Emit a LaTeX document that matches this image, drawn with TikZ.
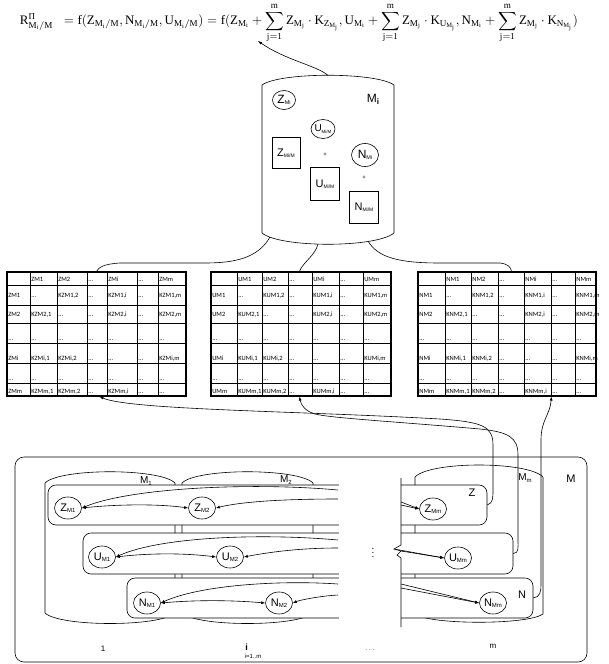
\documentclass[tikz,border=0pt]{standalone}
\usepackage{amsmath}
\usepackage{fontspec}
\setmainfont{Liberation Sans}
\setmathrm{Liberation Serif}
\newfontfamily\formfont{Liberation Serif}
\newfontfamily\tabfont{Carlito}
\usepackage{tikz}
\usetikzlibrary{arrows.meta,positioning,fit,calc,shapes.geometric}
\tikzset{
  var/.style={draw,ellipse,fill=white,inner sep=0pt,minimum width=27pt,minimum height=22pt,
              font=\fontsize{11}{11}\selectfont},
  share/.style={draw,fill=white,inner sep=0pt,minimum width=29pt,minimum height=32pt,
              font=\fontsize{11}{11}\selectfont},
  row/.style={draw,fill=white,rounded corners=8pt,inner sep=0pt},
  drum/.style={draw,fill=white},
  tab/.style={draw,line width=1.1pt,inner sep=0pt},
  grid/.style={line width=0.4pt},
  cell/.style={anchor=base west,inner sep=1pt,font=\tabfont\fontsize{6.5}{7}\selectfont},
  lbl/.style={inner sep=0pt,font=\fontsize{11}{11}\selectfont},
  link/.style={-{Latex[length=4pt,width=3pt]}},
  both/.style={{Latex[length=4pt,width=3pt]}-{Latex[length=4pt,width=3pt]}}
}
\newcommand{\vsub}[3][6]{#2\raisebox{-1.5pt}{\fontsize{#1}{#1}\selectfont #3}}
\newcommand{\el}{...}
% #1 node name, #2 letter, #3 column edges
\newcommand{\ktable}[3]{%
  \pgfmathsetmacro{\xa}{{#3}[0]}%
  \pgfmathsetmacro{\xb}{{#3}[7]}%
  \foreach \x in {#3} \draw[grid] (\x,272) -- (\x,396);
  \foreach \y in {285,305,323,343,363,383} \draw[grid] (\xa,\y) -- (\xb,\y);
  \node[tab,fit={(\xa,272) (\xb,396)}] (#1) {};
  \foreach \y/\cells in {%
      281/{{},#2M1,#2M2,\el,#2Mi,\el,#2Mm},
      297/{#2M1,\el,{K#2M1,2},\el,{K#2M1,i},\el,{K#2M1,m}},
      316/{#2M2,{K#2M2,1},\el,\el,{K#2M2,i},\el,{K#2M2,m}},
      340/{\el,\el,\el,\el,\el,\el,\el},
      360/{#2Mi,{K#2Mi,1},{K#2Mi,2},\el,\el,\el,{K#2Mi,m}},
      380/{\el,\el,\el,\el,\el,\el,\el},
      393/{#2Mm,{K#2Mm,1},{K#2Mm,2},\el,{K#2Mm,i},\el,\el}}{%
    \foreach \entry [count=\ci from 0] in \cells {%
      \pgfmathsetmacro{\cx}{{#3}[\ci]}%
      \node[cell] at (\cx,\y) {\entry};
    }
  }
}

\begin{document}
\begin{tikzpicture}[x=1pt,y=-1pt,line width=0.6pt]
  \useasboundingbox (0,0) rectangle (608,664);

  % formula
  \node[inner sep=0pt] (formula) at (299,23) {\resizebox{558pt}{!}{$\displaystyle
    \mathrm{R^{\text{\formfont Π}}_{M_i/M}\;\; = f(Z_{M_i/M},N_{M_i/M},U_{M_i/M}) = f(Z_{M_i}+\sum_{j=1}^{m}Z_{M_j}\cdot K_{Z_{M_j}},
    U_{M_i}+\sum_{j=1}^{m}Z_{M_j}\cdot K_{U_{M_j}},N_{M_i}+\sum_{j=1}^{m}Z_{M_j}\cdot K_{N_{M_j}})}$}};
  \coordinate (rTip) at (258,41);

  % element M_i
  \draw[drum] (262,233) -- (262,85) .. controls (280,72) and (376,72) .. (394,85)
    -- (394,233) .. controls (376,248) and (280,248) .. (262,233) -- cycle;
  \coordinate (MiTop) at (328,75.5);
  \coordinate (MiL) at (270,237);
  \coordinate (MiC) at (318,244);
  \coordinate (MiR) at (368,241);
  \node[var,minimum width=23pt,minimum height=19pt,font=\fontsize{12}{12}\selectfont] (ZMi) at (284,100) {\vsub[5.5]{Z}{Mi}};
  \node[lbl,font=\fontsize{12}{12}\selectfont] (Mi) at (373,99) {M\raisebox{-2pt}{\fontsize{8}{8}\selectfont\bfseries i}};
  \node[var,minimum width=20pt,minimum height=19pt,font=\fontsize{10}{10}\selectfont] (UMi) at (323,129) {\vsub[4.5]{U}{Mi/M}};
  \node[share,minimum width=28pt,minimum height=31pt] (ZMiM) at (286,153) {\vsub[5]{Z}{Mi/M}};
  \node[lbl,font=\fontsize{6}{6}\selectfont] (plusA) at (325,155) {+};
  \node[var,minimum width=27pt,minimum height=23pt,font=\fontsize{12}{12}\selectfont] (NMi) at (365,155) {\vsub[5.5]{N}{Mi}};
  \node[share,minimum height=33pt] (UMiM) at (325,184) {\vsub[5]{U}{Mi/M}};
  \node[lbl,font=\fontsize{6}{6}\selectfont] (plusB) at (364,178) {+};
  \node[share] (NMiM) at (364,207) {\vsub[5]{N}{Mi/M}};
  \draw[link] (MiTop) .. controls (318,66) and (285,60) .. (rTip);

  % coefficient tables
  \ktable{tabZ}{Z}{7,30,57,87,107,137,158,186}
  \ktable{tabU}{U}{211,237,262,288,312,339,363,391}
  \ktable{tabN}{N}{418,445,471,498,524,551,575,596}

  \draw (MiL) .. controls (258,258) and (235,263) .. (205,263) -- (120,263)
    .. controls (104,264) and (99,267) .. ($(tabZ.north west)+(90,0)$);
  \draw (MiC) .. controls (315,256) and (303,262) .. ($(tabU.north west)+(89,0)$);
  \draw (MiR) .. controls (378,258) and (400,263) .. (440,263) -- (500,263)
    .. controls (508,264) and (511,267) .. ($(tabN.north west)+(94,0)$);

  % system M
  \node[draw,rounded corners=9pt,minimum width=572pt,minimum height=205pt] (Mbox) at (301,559.5) {};
  \draw[drum] (45,613) -- (45,483) .. controls (60,468) and (160,468) .. (175,483)
    -- (175,613) .. controls (160,627) and (60,627) .. (45,613) -- cycle;
  \draw[drum] (182,613) -- (182,483) .. controls (197,468) and (298,468) .. (313,483)
    -- (313,613) .. controls (298,627) and (197,627) .. (182,613) -- cycle;
  \draw[drum] (415,614) -- (415,477) .. controls (430,461) and (528,461) .. (543,477)
    -- (543,614) .. controls (528,625) and (430,625) .. (415,614) -- cycle;

  \node[row,minimum width=439pt,minimum height=40pt] (Zrow) at (267.5,505) {};
  \node[row,minimum width=430pt,minimum height=41pt] (Urow) at (298,553.5) {};
  \node[row,minimum width=406pt,minimum height=40pt] (Nrow) at (330,598) {};

  % break between M_2 and M_m
  \fill[white] (338.5,464) rectangle (400.5,630);
  \draw (401,478) -- (401,545) -- (394,549) -- (401,551) -- (397,555) -- (401,558) -- (401,627);
  \node[lbl,font=\fontsize{10}{10}\selectfont] (vdots) at (373,550) {\vdots};

  \node[lbl,font=\fontsize{10}{10}\selectfont] (M1) at (146,481) {\vsub[6]{M}{1}};
  \node[lbl,font=\fontsize{10}{10}\selectfont] (M2) at (286,480) {\vsub[6]{M}{2}};
  \node[lbl,font=\fontsize{10}{10}\selectfont] (Mm) at (525,478) {\vsub[6]{M}{m}};
  \node[lbl] (M) at (571,479) {M};
  \node[lbl] (Zlbl) at (472,493) {Z};
  \node[lbl] (Nlbl) at (522,595) {N};

  \node[var] (ZM1) at (68,508) {\vsub{Z}{M1}};
  \node[var] (ZM2) at (202,508) {\vsub{Z}{M2}};
  \node[var] (UM1) at (102,557) {\vsub{U}{M1}};
  \node[var] (UM2) at (230,557) {\vsub{U}{M2}};
  \node[var] (NM1) at (147,603) {\vsub{N}{M1}};
  \node[var] (NM2) at (279,603) {\vsub{N}{M2}};
  \node[var] (ZMm) at (433,509) {\vsub{Z}{Mm}};
  \node[var] (UMm) at (458,558) {\vsub{U}{Mm}};
  \node[var] (NMm) at (493,603) {\vsub{N}{Mm}};

  \coordinate (zA) at (338,490);
  \coordinate (zB) at (338,499);
  \coordinate (uA) at (338,540);
  \coordinate (uB) at (338,548);
  \coordinate (nA) at (338,584);
  \coordinate (nB) at (338,595);
  \coordinate (zC) at (401,502);
  \coordinate (zD) at (401,505);
  \coordinate (uC) at (394,549);
  \coordinate (uD) at (401,551);
  \coordinate (nC) at (401,584);
  \coordinate (nD) at (401,588);

  \draw[link] (zA) .. controls (250,482) and (130,488) .. (ZM1.east);
  \draw[both] (ZM1.east) .. controls (120,504) and (160,504) .. (ZM2.west);
  \draw[link] (zB) .. controls (280,499) and (240,502) .. (ZM2.east);
  \draw[link] (uA) .. controls (260,533) and (160,537) .. (UM1.east);
  \draw[both] (UM1.east) .. controls (150,553) and (185,553) .. (UM2.west);
  \draw[link] (uB) .. controls (300,548) and (270,552) .. (UM2.east);
  \draw[link] (nA) .. controls (280,580) and (200,585) .. (NM1.east);
  \draw[both] (NM1.east) .. controls (195,600) and (230,600) .. (NM2.west);
  \draw[link] (nB) .. controls (320,596) and (300,600) .. (NM2.east);
  \draw[link] (zC) -- (ZMm.west);
  \draw[link] (zD) -- (ZMm.west);
  \draw[link] (uC) -- (UMm.west);
  \draw[link] (uD) -- (UMm.west);
  \draw[link] (nC) -- (NMm.west);
  \draw[link] (nD) -- (NMm.west);

  % rows to tables
  \draw[link] (Zrow.east) .. controls (493,503) and (493,498) .. (493,490) -- (493,445)
    .. controls (493,426) and (482,422) .. (440,419)
    .. controls (300,411) and (130,410) .. ($(tabZ.south west)+(93,0)$);
  \draw[link] (Urow.east) .. controls (519,553) and (518,548) .. (518,540) -- (518,455)
    .. controls (518,437) and (508,432) .. (480,429)
    .. controls (400,422) and (330,418) .. (315,414)
    .. controls (305,411) and (301,405) .. ($(tabU.south west)+(89,0)$);
  \draw[link] (Nrow.east) .. controls (540,597) and (541,592) .. (541,585) -- (541,440)
    .. controls (541,420) and (550,415) .. ($(tabN.south west)+(134,0)$);

  % indices
  \node[lbl,font=\fontsize{8}{8}\selectfont,anchor=base] (one) at (103,651) {1};
  \node[lbl,font=\fontsize{9}{9}\selectfont\bfseries,anchor=base west] (ilbl) at (245,650)
    {i\raisebox{-8pt}{\kern-3pt\mdseries\fontsize{6}{6}\selectfont i=1..m}};
  \node[lbl,font=\fontsize{6}{6}\selectfont,anchor=base] (dots) at (370,650) {. . .};
  \node[lbl,font=\fontsize{8}{8}\selectfont,anchor=base] (mlbl) at (493,648) {m};
\end{tikzpicture}
\end{document}
